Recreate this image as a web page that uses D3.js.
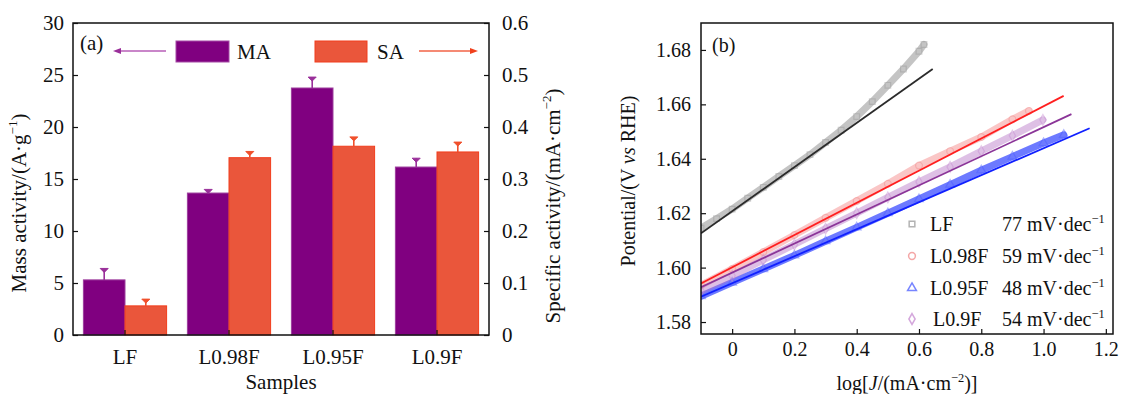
<!DOCTYPE html>
<html>
<head>
<meta charset="utf-8">
<script src="https://cdn.jsdelivr.net/npm/d3@7"></script>
<style>
  body { margin: 0; background: #fff; }
  svg { display: block; }
  svg text { font-family: "Liberation Serif", Tinos, "Times New Roman", Times, "DejaVu Serif", serif !important; fill: #111; }
</style>
</head>
<body>
<div id="chart"></div>
<script>
// ---- panel (a) data ----
const samples = ["LF", "L0.98F", "L0.95F", "L0.9F"];
const massActivity = [5.3, 13.65, 23.75, 16.15];
const massErr = [1.1, 0.35, 1.05, 0.85];
const specActivity = [0.056, 0.341, 0.363, 0.352];
const specErr = [0.013, 0.012, 0.018, 0.019];
const maTicks = [0, 5, 10, 15, 20, 25, 30];
const saTicks = [0, 0.1, 0.2, 0.3, 0.4, 0.5, 0.6];

// ---- panel (b) data (Tafel plots) ----
const lfX = [-0.1, -0.05, 0, 0.05, 0.1, 0.15, 0.2, 0.25, 0.3, 0.35, 0.4, 0.45, 0.5, 0.55, 0.6, 0.616];
const lfY = [1.6145, 1.618, 1.6215, 1.6255, 1.6295, 1.6335, 1.6375, 1.6415, 1.646, 1.6505, 1.6555, 1.661, 1.667, 1.673, 1.6795, 1.682];
const l098X = [-0.1, 0, 0.1, 0.2, 0.3, 0.4, 0.5, 0.6, 0.7, 0.8, 0.9, 0.953];
const l098Y = [1.5935, 1.5995, 1.6057, 1.612, 1.6183, 1.6245, 1.6308, 1.6375, 1.6428, 1.648, 1.6545, 1.6576];
const l095X = [-0.1, 0, 0.1, 0.2, 0.3, 0.4, 0.5, 0.6, 0.7, 0.8, 0.9, 1.0, 1.065];
const l095Y = [1.5895, 1.5945, 1.5995, 1.6045, 1.6097, 1.6148, 1.62, 1.6252, 1.6305, 1.6358, 1.6408, 1.6458, 1.6488];
const l09X = [-0.1, 0, 0.1, 0.2, 0.3, 0.4, 0.5, 0.6, 0.7, 0.8, 0.9, 0.998];
const l09Y = [1.5915, 1.597, 1.6028, 1.6085, 1.6143, 1.62, 1.6258, 1.6315, 1.637, 1.6428, 1.6485, 1.6543];
// fitted lines (end points)
const fitLfX = [-0.1, 0.644], fitLfY = [1.6126, 1.673];
const fit098X = [-0.1, 1.0645], fit098Y = [1.5942, 1.6631];
const fit095X = [-0.1, 1.148], fit095Y = [1.5893, 1.6512];
const fit09X = [-0.1, 1.0896], fit09Y = [1.5928, 1.6564];
const tafelNames = ["LF", "L0.98F", "L0.95F", "L0.9F"];
const tafelSlopes = ["77", "59", "48", "54"];
const xTicksB = [0, 0.2, 0.4, 0.6, 0.8, 1.0, 1.2];
const yTicksB = [1.58, 1.60, 1.62, 1.64, 1.66, 1.68];

const svg = d3.select("#chart").append("svg").attr("width", 1121).attr("height", 394)
  .attr("font-family", "Liberation Serif, serif");

// text with superscripts: parts = [[text, isSup, isItalic], ...]
function rich(sel, parts, size) {
  let up = false;
  parts.forEach(([t, sup, it]) => {
    const ts = sel.append("tspan").text(t);
    if (sup && !up) { ts.attr("dy", -0.42 * size).style("font-size", (0.62 * size) + "px"); up = true; }
    else if (!sup && up) { ts.attr("dy", 0.42 * size); up = false; }
    else if (sup) ts.style("font-size", (0.62 * size) + "px");
    if (it) ts.style("font-style", "italic");
  });
  return sel;
}

function styleAxis(g, size) {
  g.attr("font-family", null);
  g.select(".domain").remove();
  g.selectAll(".tick line").attr("stroke", "#111").attr("stroke-width", 1.2);
  g.selectAll(".tick text").style("font-size", size + "px").attr("fill", "#111");
}

// ================= Panel (a) =================
const A = { l: 73, r: 489, t: 23, b: 335 };
const fsA = 21;
const x0 = d3.scaleBand().domain(samples).range([A.l, A.r]).paddingInner(0.2).paddingOuter(0.1);
const x1 = d3.scaleBand().domain(["MA", "SA"]).range([0, x0.bandwidth()]);
const yMA = d3.scaleLinear().domain([0, 30]).range([A.b, A.t]);
const ySA = d3.scaleLinear().domain([0, 0.6]).range([A.b, A.t]);

const maColor = "#800080", saColor = "#ea563b";

const gA = svg.append("g");
// bars
samples.forEach((s, i) => {
  const xm = x0(s) + x1("MA"), xs = x0(s) + x1("SA"), bw = x1.bandwidth();
  gA.append("rect").attr("x", xm).attr("y", yMA(massActivity[i])).attr("width", bw)
    .attr("height", yMA(0) - yMA(massActivity[i])).attr("fill", maColor).attr("stroke", "#9d3e9d").attr("stroke-width", 1);
  gA.append("rect").attr("x", xs).attr("y", ySA(specActivity[i])).attr("width", bw)
    .attr("height", ySA(0) - ySA(specActivity[i])).attr("fill", saColor).attr("stroke", "#f23d1c").attr("stroke-width", 1);
  // error bars
  [[xm, yMA, massActivity[i], massErr[i], "#9a2f9a"], [xs, ySA, specActivity[i], specErr[i], "#f0502c"]].forEach(([bx, sc, v, e, c]) => {
    const cx = bx + bw / 2;
    gA.append("line").attr("x1", cx).attr("x2", cx).attr("y1", sc(v)).attr("y2", sc(v + e))
      .attr("stroke", c).attr("stroke-width", 1.6);
    gA.append("path").attr("d", `M${cx - 4},${sc(v + e)}L${cx + 4},${sc(v + e)}L${cx},${sc(v + e) + 4}Z`)
      .attr("fill", c).attr("stroke", c).attr("stroke-width", 1);
  });
});

// axes
gA.append("g").attr("transform", `translate(${A.l},0)`)
  .call(d3.axisLeft(yMA).tickValues(maTicks).tickSize(-5).tickPadding(9).tickFormat(d3.format("d")))
  .call(g => styleAxis(g, fsA));
gA.append("g").attr("transform", `translate(${A.r},0)`)
  .call(d3.axisRight(ySA).tickValues(saTicks).tickSize(-5).tickPadding(13).tickFormat(d => d === 0 ? "0" : d.toFixed(1)))
  .call(g => styleAxis(g, fsA));
gA.append("g").attr("transform", `translate(0,${A.b})`)
  .call(d3.axisBottom(x0).tickSize(-5).tickPadding(14))
  .call(g => styleAxis(g, fsA));
gA.append("rect").attr("x", A.l).attr("y", A.t).attr("width", A.r - A.l).attr("height", A.b - A.t)
  .attr("fill", "none").attr("stroke", "#111").attr("stroke-width", 1.5);

// titles
gA.append("text").attr("x", (A.l + A.r) / 2).attr("y", 389).attr("text-anchor", "middle")
  .style("font-size", fsA + "px").text("Samples");
rich(gA.append("text").attr("transform", "translate(26,203) rotate(-90)").attr("text-anchor", "middle")
  .style("font-size", fsA + "px"), [["Mass activity/(A·g"], ["−1", true], [")"]], fsA);
rich(gA.append("text").attr("transform", "translate(560,206) rotate(-90)").attr("text-anchor", "middle")
  .style("font-size", fsA + "px"), [["Specific activity/(mA·cm"], ["−2", true], [")"]], fsA);
gA.append("text").attr("x", 80).attr("y", 50).style("font-size", fsA + "px").text("(a)");

// legend (a)
const legA = gA.append("g");
legA.append("line").attr("x1", 118).attr("x2", 166).attr("y1", 51).attr("y2", 51).attr("stroke", "#c986c9").attr("stroke-width", 2);
legA.append("path").attr("d", "M113,51L121,48L121,54Z").attr("fill", "#9a2f9a");
legA.append("rect").attr("x", 176).attr("y", 41).attr("width", 53).attr("height", 21).attr("fill", maColor).attr("stroke", "#a54aa5");
legA.append("text").attr("x", 237).attr("y", 59).style("font-size", fsA + "px").text("MA");
legA.append("rect").attr("x", 315).attr("y", 41).attr("width", 52).attr("height", 21).attr("fill", saColor).attr("stroke", "#f23d1c");
legA.append("text").attr("x", 377).attr("y", 59).style("font-size", fsA + "px").text("SA");
legA.append("line").attr("x1", 419).attr("x2", 473).attr("y1", 51).attr("y2", 51).attr("stroke", "#f58a74").attr("stroke-width", 2);
legA.append("path").attr("d", "M478,51L470,48L470,54Z").attr("fill", "#f0401c");

// ================= Panel (b) =================
const B = { l: 701, r: 1113, t: 23, b: 334 };
const fsB = 20;
const xB = d3.scaleLinear().domain([-0.1, 1.223]).range([B.l, B.r]);
const yB = d3.scaleLinear().domain([1.5756, 1.6899]).range([B.b, B.t]);

const gB = svg.append("g");
gB.append("clipPath").attr("id", "clipB").append("rect")
  .attr("x", B.l).attr("y", B.t).attr("width", B.r - B.l).attr("height", B.b - B.t);
const plotB = gB.append("g").attr("clip-path", "url(#clipB)");

const series = [
  { xs: lfX, ys: lfY, fx: fitLfX, fy: fitLfY, band: "#8a8a8a", bandOp: 0.5, mk: "#9a9a9a", line: "#2b2b2b", sym: d3.symbolSquare, size: 32 },
  { xs: l098X, ys: l098Y, fx: fit098X, fy: fit098Y, band: "#f27070", bandOp: 0.4, mk: "#f08a8a", line: "#ff1f1f", sym: d3.symbolCircle, size: 36 },
  { xs: l095X, ys: l095Y, fx: fit095X, fy: fit095Y, band: "#1f33ff", bandOp: 0.65, mk: "#4a5cff", line: "#1020ff", sym: d3.symbolTriangle, size: 34 },
  { xs: l09X, ys: l09Y, fx: fit09X, fy: fit09Y, band: "#b673c6", bandOp: 0.45, mk: "#c68ad0", line: "#8b3598", sym: d3.symbolDiamond, size: 34 }
];

const lineGen = d3.line().x(d => xB(d[0])).y(d => yB(d[1]));

series.forEach(s => {
  const pts = s.xs.map((x, i) => [x, s.ys[i]]);
  plotB.append("path").datum(pts).attr("d", lineGen).attr("fill", "none")
    .attr("stroke", s.band).attr("stroke-opacity", s.bandOp).attr("stroke-width", 7).attr("stroke-linecap", "round");
  plotB.selectAll(null).data(pts).enter().append("path")
    .attr("transform", d => `translate(${xB(d[0])},${yB(d[1])})`)
    .attr("d", d3.symbol().type(s.sym).size(s.size))
    .attr("fill", "none").attr("stroke", s.mk).attr("stroke-opacity", 0.45).attr("stroke-width", 1.2);
});
series.forEach(s => {
  const fit = s.fx.map((x, i) => [x, s.fy[i]]);
  plotB.append("path").datum(fit).attr("d", lineGen).attr("fill", "none")
    .attr("stroke", s.line).attr("stroke-width", 1.8);
});

// axes
gB.append("g").attr("transform", `translate(${B.l},0)`)
  .call(d3.axisLeft(yB).tickValues(yTicksB).tickSize(-5).tickPadding(10).tickFormat(d => d.toFixed(2)))
  .call(g => styleAxis(g, fsB));
gB.append("g").attr("transform", `translate(0,${B.b})`)
  .call(d3.axisBottom(xB).tickValues(xTicksB).tickSize(-5).tickPadding(8).tickFormat(d => d === 0 ? "0" : d.toFixed(1)))
  .call(g => styleAxis(g, fsB));
gB.append("rect").attr("x", B.l).attr("y", B.t).attr("width", B.r - B.l).attr("height", B.b - B.t)
  .attr("fill", "none").attr("stroke", "#111").attr("stroke-width", 1.5);

// titles
rich(gB.append("text").attr("x", (B.l + B.r) / 2).attr("y", 390).attr("text-anchor", "middle")
  .style("font-size", fsB + "px"), [["log["], ["J", false, true], ["/(mA·cm"], ["−2", true], [")]"]], fsB);
rich(gB.append("text").attr("transform", "translate(635,181) rotate(-90)").attr("text-anchor", "middle")
  .style("font-size", fsB + "px"), [["Potential/(V "], ["vs", false, true], [" RHE)"]], fsB);
gB.append("text").attr("x", 712).attr("y", 52).style("font-size", fsB + "px").text("(b)");

// legend (b)
const legRows = [231, 263, 295, 326];
series.forEach((s, i) => {
  const y = legRows[i];
  gB.append("path").attr("transform", `translate(912,${y - 7})`)
    .attr("d", d3.symbol().type(s.sym).size(s.size))
    .attr("fill", "none").attr("stroke", s.mk).attr("stroke-opacity", 0.75).attr("stroke-width", 1.5);
  gB.append("text").attr("x", i === 3 ? 933 : 930).attr("y", y).style("font-size", fsB + "px").text(tafelNames[i]);
  rich(gB.append("text").attr("x", 1002).attr("y", y).style("font-size", fsB + "px"),
    [[tafelSlopes[i] + " mV·dec"], ["−1", true]], fsB);
});
</script>
</body>
</html>
